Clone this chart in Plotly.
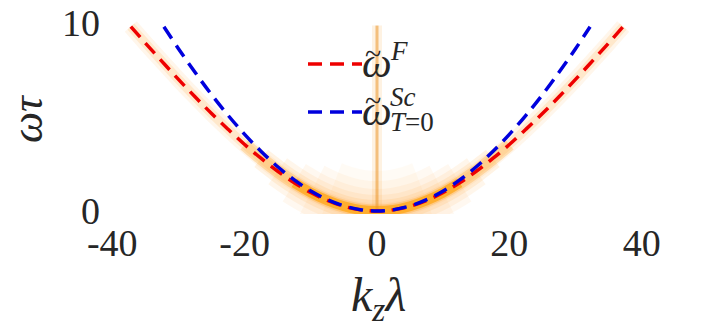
import plotly.graph_objects as go

# ---- data ----
k_F = [-37.2, -35.0, -32.5, -30.0, -27.5, -25.0, -22.5, -20.0, -17.5, -15.0, -12.5, -10.0, -7.5, -5.0, -2.5,
       0.0, 2.5, 5.0, 7.5, 10.0, 12.5, 15.0, 17.5, 20.0, 22.5, 25.0, 27.5, 30.0, 32.5, 35.0, 37.2]
w_F = [9.80, 8.92, 7.95, 6.99, 6.07, 5.18, 4.34, 3.53, 2.79, 2.11, 1.50, 0.98, 0.56, 0.25, 0.06,
       0.00, 0.06, 0.25, 0.56, 0.98, 1.50, 2.11, 2.79, 3.53, 4.34, 5.18, 6.07, 6.99, 7.95, 8.92, 9.80]

k_Sc = [-32.2, -30.0, -27.5, -25.0, -22.5, -20.0, -17.5, -15.0, -12.5, -10.0, -7.5, -5.0, -2.5,
        0.0, 2.5, 5.0, 7.5, 10.0, 12.5, 15.0, 17.5, 20.0, 22.5, 25.0, 27.5, 30.0, 32.2]
w_Sc = [9.79, 8.62, 7.37, 6.18, 5.08, 4.07, 3.16, 2.35, 1.65, 1.06, 0.60, 0.27, 0.07,
        0.00, 0.07, 0.27, 0.60, 1.06, 1.65, 2.35, 3.16, 4.07, 5.08, 6.18, 7.37, 8.62, 9.79]

spike_k = [0.0, 0.0]
spike_w = [0.0, 9.85]

x_ticks = [-40, -20, 0, 20, 40]
x_ticklabels = ["-40", "-20", "0", "20", "40"]
y_ticks = [0, 10]
y_ticklabels = ["0", "10"]

TXT = "#262626"
FONT = "Liberation Serif"

fig = go.Figure()


def sub(kk, ww, kmax):
    pts = [(a, b) for a, b in zip(kk, ww) if abs(a) <= kmax + 1e-9]
    return [p[0] for p in pts], [p[1] for p in pts]


# glow of the spectral function around the dispersion
glow = [
    (7.5, 80, "rgba(255,180,80,0.06)"),
    (10.0, 60, "rgba(255,175,70,0.07)"),
    (12.5, 44, "rgba(255,170,60,0.08)"),
    (15.0, 32, "rgba(255,168,55,0.10)"),
    (17.5, 22, "rgba(255,165,50,0.13)"),
    (40.0, 16, "rgba(255,175,70,0.11)"),
    (40.0, 9, "rgba(255,170,60,0.18)"),
    (20.0, 13, "rgba(255,160,30,0.28)"),
    (12.5, 10, "rgba(255,160,0,0.60)"),
]
for kmax, wdt, col in glow:
    xs, ys = sub(k_F, w_F, kmax)
    fig.add_trace(go.Scatter(x=xs, y=ys, mode="lines", line=dict(color=col, width=wdt, shape="spline"),
                             hoverinfo="skip", showlegend=False))

# vertical feature at k=0
fig.add_trace(go.Scatter(x=spike_k, y=spike_w, mode="lines", line=dict(color="rgba(245,165,60,0.15)", width=10),
                         hoverinfo="skip", showlegend=False))
fig.add_trace(go.Scatter(x=spike_k, y=spike_w, mode="lines", line=dict(color="rgba(235,150,40,0.55)", width=3),
                         hoverinfo="skip", showlegend=False))

fig.add_trace(go.Scatter(x=k_F, y=w_F, mode="lines", name="F",
                         line=dict(color="#ee0000", width=3.5, dash="14px,8px", shape="spline"), showlegend=False))
fig.add_trace(go.Scatter(x=k_Sc, y=w_Sc, mode="lines", name="Sc",
                         line=dict(color="#0000dd", width=3.5, dash="14px,8px", shape="spline"), showlegend=False))

W, H = 710, 330
L, R, T, B = 107, 63, 19, 116
pw, ph = W - L - R, H - T - B


def px(x):
    return (x - L) / pw


def py(y):
    return (H - B - y) / ph


# legend samples
for yy, col in [(64, "#ee0000"), (112, "#0000dd")]:
    fig.add_shape(type="line", xref="paper", yref="paper", x0=px(308), x1=px(362), y0=py(yy), y1=py(yy),
                  line=dict(color=col, width=3.5, dash="14px,8px"))

ann = [
    ("<i>ω</i>", 360, 63, 42, "left"),
    ("~", 373, 53, 30, "center"),
    ("<i>F</i>", 388, 51, 27, "left"),
    ("<i>ω</i>", 360, 111, 42, "left"),
    ("~", 373, 101, 30, "center"),
    ("<i>Sc</i>", 388, 97, 27, "left"),
    ("<i>T</i>=0", 388, 122, 27, "left"),
]
for txt, x, y, s, xa in ann:
    fig.add_annotation(text=txt, xref="paper", yref="paper", x=px(x), y=py(y), xanchor=xa, yanchor="middle",
                       showarrow=False, font=dict(family=FONT, size=s, color=TXT))

# axis titles
fig.add_annotation(text="<i>ωτ</i>", xref="paper", yref="paper", x=px(28), y=py(119), textangle=-90,
                   xanchor="center", yanchor="middle", showarrow=False, font=dict(family=FONT, size=44, color=TXT))
fig.add_annotation(text="<i>k</i><sub><i>z</i></sub><i>λ</i>", xref="paper", yref="paper", x=px(378), y=py(298),
                   xanchor="center", yanchor="middle", showarrow=False, font=dict(family=FONT, size=48, color=TXT))

fig.update_layout(
    width=W, height=H, autosize=False,
    margin=dict(l=L, r=R, t=T, b=B, autoexpand=False),
    paper_bgcolor="white", plot_bgcolor="white",
    showlegend=False,
    xaxis=dict(range=[-40.8, 40.8], tickvals=x_ticks, ticktext=x_ticklabels, showgrid=False, zeroline=False,
               showline=False, ticks="", ticklabelstandoff=3, automargin=False,
               tickfont=dict(family=FONT, size=38, color=TXT)),
    yaxis=dict(range=[-0.16, 10.2], tickvals=y_ticks, ticktext=y_ticklabels, showgrid=False, zeroline=False,
               showline=False, ticks="", ticklabelstandoff=6, automargin=False,
               tickfont=dict(family=FONT, size=38, color=TXT)),
)

fig.write_html("out.html", config={"displayModeBar": False},
               post_script="document.body.style.margin='0';document.body.style.overflow='hidden';")
